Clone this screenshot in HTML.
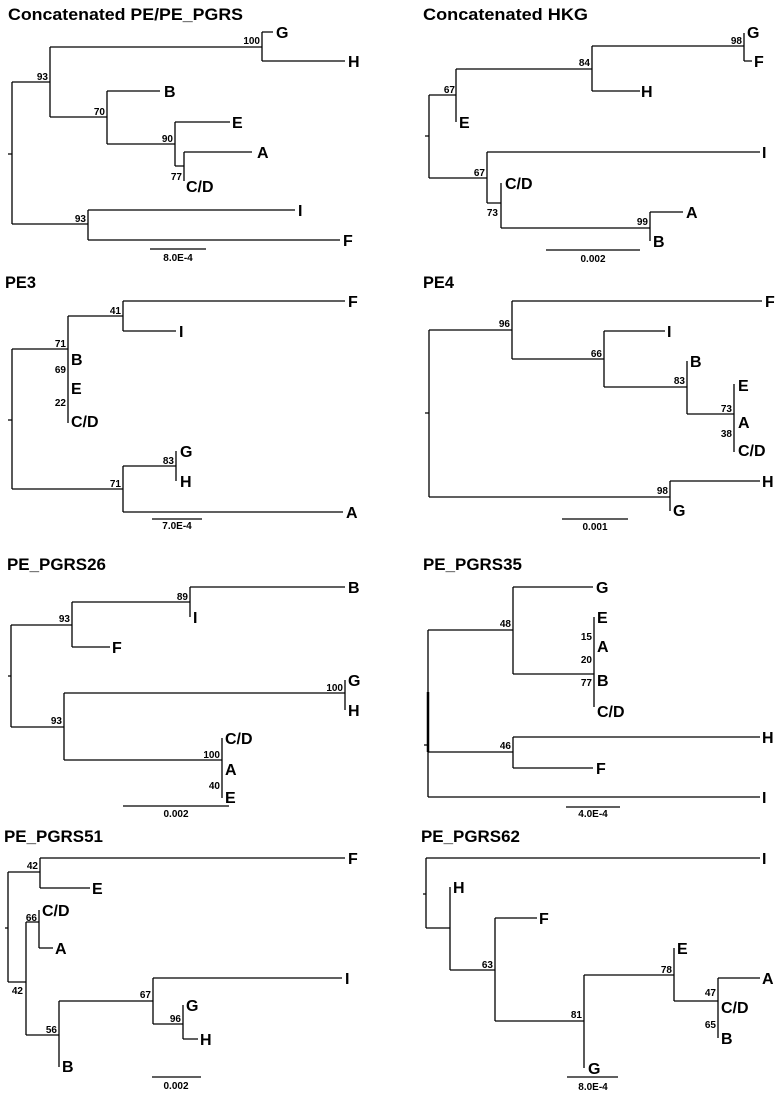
<!DOCTYPE html>
<html><head><meta charset="utf-8"><style>
html,body{margin:0;padding:0;background:#fff;}
svg{display:block;}
.t{font-family:"Liberation Sans",sans-serif;font-weight:bold;font-size:17px;fill:#000;}
.l{font-family:"Liberation Sans",sans-serif;font-weight:bold;font-size:16px;fill:#000;}
.b{font-family:"Liberation Sans",sans-serif;font-weight:bold;font-size:10px;fill:#000;text-anchor:end;}
.s{font-family:"Liberation Sans",sans-serif;font-weight:bold;font-size:10px;fill:#000;text-anchor:middle;}
path{fill:none;stroke:#000;stroke-width:1.3;}
</style></head><body>
<svg width="783" height="1094" viewBox="0 0 783 1094" xmlns="http://www.w3.org/2000/svg">
<!-- Panel 1 -->
<text class="t" x="8" y="20" textLength="235" lengthAdjust="spacingAndGlyphs">Concatenated PE/PE_PGRS</text>
<path d="M8 154H12 M12 82V224 M12 82H50 M50 47V117 M50 47H262 M262 32V61 M262 32H273 M262 61H345 M50 117H107 M107 91V144 M107 91H160 M107 144H175 M175 122V166 M175 122H230 M175 166H184 M184 152V181 M184 152H252 M12 224H88 M88 210V240 M88 210H295 M88 240H340 M150 249H206"/>
<text class="l" x="276" y="38">G</text><text class="l" x="348" y="67">H</text><text class="l" x="164" y="97">B</text><text class="l" x="232" y="128">E</text><text class="l" x="257" y="158">A</text><text class="l" x="186" y="192">C/D</text><text class="l" x="298" y="216">I</text><text class="l" x="343" y="246">F</text>
<text class="b" x="260" y="44">100</text><text class="b" x="48" y="80">93</text><text class="b" x="105" y="115">70</text><text class="b" x="173" y="142">90</text><text class="b" x="182" y="180">77</text><text class="b" x="86" y="222">93</text>
<text class="s" x="178" y="261">8.0E-4</text>
<!-- Panel 2 -->
<text class="t" x="423" y="20" textLength="165" lengthAdjust="spacingAndGlyphs">Concatenated HKG</text>
<path d="M425 136H429 M429 95V178 M429 95H456 M456 69V122 M456 69H592 M592 46V91 M592 91H640 M592 46H744 M744 33V61 M744 61H752 M429 178H487 M487 152V203 M487 152H760 M487 203H501 M501 183V228 M501 228H650 M650 212V241 M650 212H683 M546 250H640"/>
<text class="l" x="459" y="128">E</text><text class="l" x="641" y="97">H</text><text class="l" x="747" y="38">G</text><text class="l" x="754" y="67">F</text><text class="l" x="762" y="158">I</text><text class="l" x="505" y="189">C/D</text><text class="l" x="686" y="218">A</text><text class="l" x="653" y="247">B</text>
<text class="b" x="455" y="93">67</text><text class="b" x="590" y="66">84</text><text class="b" x="742" y="44">98</text><text class="b" x="485" y="176">67</text><text class="b" x="498" y="216">73</text><text class="b" x="648" y="225">99</text>
<text class="s" x="593" y="262">0.002</text>
<!-- Panel 3 -->
<text class="t" x="5" y="288" textLength="31" lengthAdjust="spacingAndGlyphs">PE3</text>
<path d="M8 420H12 M12 349V489 M12 349H68 M68 316V423 M68 316H123 M123 301V331 M123 301H345 M123 331H176 M12 489H123 M123 466V512 M123 466H176 M176 451V481 M123 512H343 M152 519H202"/>
<text class="l" x="348" y="307">F</text><text class="l" x="179" y="337">I</text><text class="l" x="71" y="365">B</text><text class="l" x="71" y="394">E</text><text class="l" x="71" y="427">C/D</text><text class="l" x="180" y="457">G</text><text class="l" x="180" y="487">H</text><text class="l" x="346" y="518">A</text>
<text class="b" x="121" y="314">41</text><text class="b" x="66" y="347">71</text><text class="b" x="66" y="373">69</text><text class="b" x="66" y="406">22</text><text class="b" x="174" y="464">83</text><text class="b" x="121" y="487">71</text>
<text class="s" x="177" y="529">7.0E-4</text>
<!-- Panel 4 -->
<text class="t" x="423" y="288" textLength="31" lengthAdjust="spacingAndGlyphs">PE4</text>
<path d="M425 413H429 M429 330V497 M429 330H512 M512 301V359 M512 301H762 M512 359H604 M604 331V387 M604 331H665 M604 387H687 M687 361V414 M687 414H734 M734 384V452 M429 497H670 M670 481V511 M670 481H760 M562 519H628"/>
<text class="l" x="765" y="307">F</text><text class="l" x="667" y="337">I</text><text class="l" x="690" y="367">B</text><text class="l" x="738" y="391">E</text><text class="l" x="738" y="428">A</text><text class="l" x="738" y="456">C/D</text><text class="l" x="762" y="487">H</text><text class="l" x="673" y="516">G</text>
<text class="b" x="510" y="327">96</text><text class="b" x="602" y="357">66</text><text class="b" x="685" y="384">83</text><text class="b" x="732" y="412">73</text><text class="b" x="732" y="437">38</text><text class="b" x="668" y="494">98</text>
<text class="s" x="595" y="530">0.001</text>
<!-- Panel 5 -->
<text class="t" x="7" y="570" textLength="99" lengthAdjust="spacingAndGlyphs">PE_PGRS26</text>
<path d="M8 676H11 M11 625V727 M11 625H72 M72 602V647 M72 602H190 M190 587V617 M190 587H345 M72 647H110 M11 727H64 M64 693V760 M64 693H345 M345 680V710 M64 760H222 M222 738V798 M123 806H229"/>
<text class="l" x="348" y="593">B</text><text class="l" x="193" y="623">I</text><text class="l" x="112" y="653">F</text><text class="l" x="348" y="686">G</text><text class="l" x="348" y="716">H</text><text class="l" x="225" y="744">C/D</text><text class="l" x="225" y="775">A</text><text class="l" x="225" y="803">E</text>
<text class="b" x="70" y="622">93</text><text class="b" x="188" y="600">89</text><text class="b" x="343" y="691">100</text><text class="b" x="62" y="724">93</text><text class="b" x="220" y="758">100</text><text class="b" x="220" y="789">40</text>
<text class="s" x="176" y="817">0.002</text>
<!-- Panel 6 -->
<text class="t" x="423" y="570" textLength="99" lengthAdjust="spacingAndGlyphs">PE_PGRS35</text>
<path d="M424 745H428 M428 630V797 M428 630H513 M513 587V674 M513 587H593 M513 674H594 M594 617V707 M428 752H513 M513 737V768 M513 737H760 M513 768H593 M428 797H760 M566 807H620"/>
<path d="M428 692V752" style="stroke-width:2.5"/>
<text class="l" x="596" y="593">G</text><text class="l" x="597" y="623">E</text><text class="l" x="597" y="652">A</text><text class="l" x="597" y="686">B</text><text class="l" x="597" y="717">C/D</text><text class="l" x="762" y="743">H</text><text class="l" x="596" y="774">F</text><text class="l" x="762" y="803">I</text>
<text class="b" x="511" y="627">48</text><text class="b" x="592" y="640">15</text><text class="b" x="592" y="663">20</text><text class="b" x="592" y="686">77</text><text class="b" x="511" y="749">46</text>
<text class="s" x="593" y="817">4.0E-4</text>
<!-- Panel 7 -->
<text class="t" x="4" y="842" textLength="99" lengthAdjust="spacingAndGlyphs">PE_PGRS51</text>
<path d="M5 928H8 M8 872V982 M8 872H40 M40 858V888 M40 858H345 M40 888H90 M8 982H26 M26 922V1035 M26 922H39 M39 910V948 M39 948H53 M26 1035H59 M59 1001V1067 M59 1001H153 M153 978V1024 M153 978H342 M153 1024H183 M183 1005V1039 M183 1039H198 M152 1077H201"/>
<text class="l" x="348" y="864">F</text><text class="l" x="92" y="894">E</text><text class="l" x="42" y="916">C/D</text><text class="l" x="55" y="954">A</text><text class="l" x="345" y="984">I</text><text class="l" x="186" y="1011">G</text><text class="l" x="200" y="1045">H</text><text class="l" x="62" y="1072">B</text>
<text class="b" x="38" y="869">42</text><text class="b" x="37" y="921">66</text><text class="b" x="23" y="994">42</text><text class="b" x="57" y="1033">56</text><text class="b" x="151" y="998">67</text><text class="b" x="181" y="1022">96</text>
<text class="s" x="176" y="1089">0.002</text>
<!-- Panel 8 -->
<text class="t" x="421" y="842" textLength="99" lengthAdjust="spacingAndGlyphs">PE_PGRS62</text>
<path d="M423 894H426 M426 858V928 M426 858H760 M426 928H450 M450 887V970 M450 970H495 M495 918V1021 M495 918H537 M495 1021H584 M584 975V1068 M584 975H674 M674 948V1001 M674 1001H718 M718 978V1038 M718 978H760 M567 1077H618"/>
<text class="l" x="762" y="864">I</text><text class="l" x="453" y="893">H</text><text class="l" x="539" y="924">F</text><text class="l" x="677" y="954">E</text><text class="l" x="762" y="984">A</text><text class="l" x="721" y="1013">C/D</text><text class="l" x="721" y="1044">B</text><text class="l" x="588" y="1074">G</text>
<text class="b" x="493" y="968">63</text><text class="b" x="582" y="1018">81</text><text class="b" x="672" y="973">78</text><text class="b" x="716" y="996">47</text><text class="b" x="716" y="1028">65</text>
<text class="s" x="593" y="1090">8.0E-4</text>
</svg>
</body></html>
